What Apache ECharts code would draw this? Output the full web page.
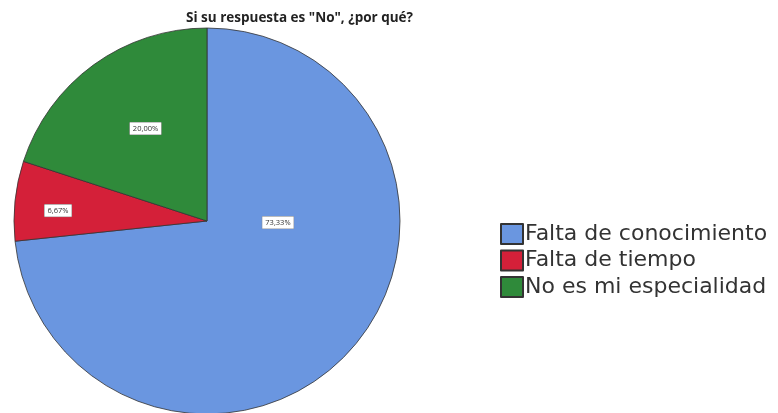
<!DOCTYPE html>
<html>
<head>
<meta charset="utf-8">
<script src="https://cdn.jsdelivr.net/npm/echarts@6/dist/echarts.min.js"></script>
<style>
  html, body { margin: 0; padding: 0; background: #fff; }
  #chart { width: 778px; height: 413px; }
</style>
</head>
<body>
<div id="chart"></div>
<script>
// Reasons given for answering "No"
const categories = ['Falta de conocimiento', 'Falta de tiempo', 'No es mi especialidad'];
const percents = [73.33, 6.67, 20.00];
const colors = ['#6a96e0', '#d42039', '#2f8a3a'];
const titleText = 'Si su respuesta es "No", ¿por qué?';

// Label nudges so each value box sits where it reads best in its slice
const labelShift = [[-3, -65], [-50, 0], [-3, -12]];

const chart = echarts.init(document.getElementById('chart'), null, { renderer: 'canvas' });

chart.setOption({
  animation: false,
  color: colors,
  title: {
    text: titleText,
    left: 181,
    top: 6,
    textStyle: { fontFamily: 'Open Sans', fontSize: 13.5, fontWeight: 'bold', color: '#222' }
  },
  legend: {
    orient: 'vertical',
    left: 495,
    top: 218,
    itemWidth: 22,
    itemHeight: 20,
    itemGap: 4.5,
    icon: 'rect',
    textStyle: { fontFamily: 'DejaVu Sans', fontSize: 22, color: '#333', padding: [0, 0, 0, -3] },
    data: categories
  },
  series: [{
    type: 'pie',
    center: [207, 221],
    radius: 193,
    startAngle: 90,
    clockwise: true,
    avoidLabelOverlap: false,
    itemStyle: { borderColor: '#333', borderWidth: 0.8 },
    emphasis: { disabled: true },
    label: {
      show: true,
      position: 'inside',
      formatter: p => p.value.toFixed(2).replace('.', ',') + '%',
      fontFamily: 'Open Sans',
      fontSize: 7.5,
      color: '#333',
      backgroundColor: '#fff',
      borderColor: '#888',
      borderWidth: 0.5,
      padding: [2, 3]
    },
    labelLayout: p => ({ dx: labelShift[p.dataIndex][0], dy: labelShift[p.dataIndex][1] }),
    data: categories.map((name, i) => ({ name, value: percents[i] }))
  }]
});
</script>
</body>
</html>
